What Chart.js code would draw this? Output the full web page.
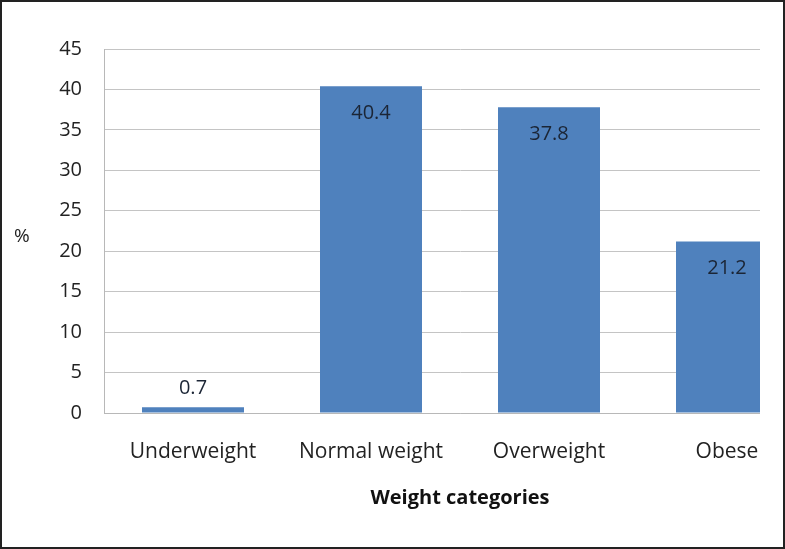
<!DOCTYPE html>
<html>
<head>
<meta charset="utf-8">
<script src="https://cdn.jsdelivr.net/npm/chart.js@4.4.1/dist/chart.umd.min.js"></script>
<style>
  body { margin: 0; background: #fff; }
  #frame { position: relative; width: 785px; height: 549px; box-sizing: border-box; border: 2px solid #222; overflow: hidden; }
  #clip { position: absolute; left: -2px; top: -2px; width: 760px; height: 549px; overflow: hidden; }
  #box { position: absolute; left: 0; top: 0; width: 818px; height: 549px; }
  #pct { position: absolute; left: 12px; top: 220px; font: 19px "Open Sans", sans-serif; color: #222; }
</style>
</head>
<body>
<div id="frame">
  <div id="clip"><div id="box"><canvas id="chart"></canvas></div></div>
  <div id="pct">%</div>
</div>
<script>
'use strict';

// weight categories and percentages
let categories = ['Underweight', 'Normal weight', 'Overweight', 'Obese'];
let percents = [0.7, 40.4, 37.8, 21.2];
let yTicks = [0, 5, 10, 15, 20, 25, 30, 35, 40, 45];

let fontFamily = '"Open Sans", sans-serif';

// write the value at the top of each bar (small bars get it above)
const valueLabels = {
  id: 'valueLabels',
  afterDatasetsDraw(chart) {
    let ctx = chart.ctx;
    let meta = chart.getDatasetMeta(0);
    ctx.save();
    ctx.font = '20px ' + fontFamily;
    ctx.fillStyle = '#1b2535';
    ctx.textAlign = 'center';
    ctx.textBaseline = 'middle';
    meta.data.forEach(function(bar, i) {
      let h = bar.base - bar.y;
      let y = h < 30 ? bar.y - 19 : bar.y + 27;
      ctx.fillText(String(percents[i]), bar.x, y);
    });
    ctx.restore();
  }
};

new Chart(document.getElementById('chart'), {
  type: 'bar',
  data: {
    labels: categories,
    datasets: [{
      data: percents,
      backgroundColor: '#4F81BD',
      borderWidth: 0,
      categoryPercentage: 1,
      barPercentage: 0.573
    }]
  },
  options: {
    responsive: true,
    maintainAspectRatio: false,
    animation: false,
    layout: { padding: { left: 0, right: 2, top: 49, bottom: 0 } },
    plugins: {
      legend: { display: false },
      tooltip: { enabled: false }
    },
    scales: {
      x: {
        grid: { display: false, drawTicks: false },
        border: { color: '#b8b8b8', width: 1 },
        ticks: { color: '#222', font: { family: fontFamily, size: 21 }, padding: 26 },
        title: {
          display: true,
          text: 'Weight categories',
          color: '#111',
          font: { family: fontFamily, size: 20, weight: 'bold' },
          padding: { top: 0, bottom: 39 }
        },
        afterFit(scale) { scale.height = 136; }
      },
      y: {
        min: 0,
        max: 45,
        afterBuildTicks(scale) { scale.ticks = yTicks.map(v => ({ value: v })); },
        grid: { color: '#c4c4c4', drawTicks: false },
        border: { color: '#b8b8b8', width: 1 },
        ticks: { color: '#222', font: { family: fontFamily, size: 20 }, padding: 22 },
        afterFit(scale) { scale.width = 104; }
      }
    }
  },
  plugins: [valueLabels]
});
</script>
</body>
</html>
